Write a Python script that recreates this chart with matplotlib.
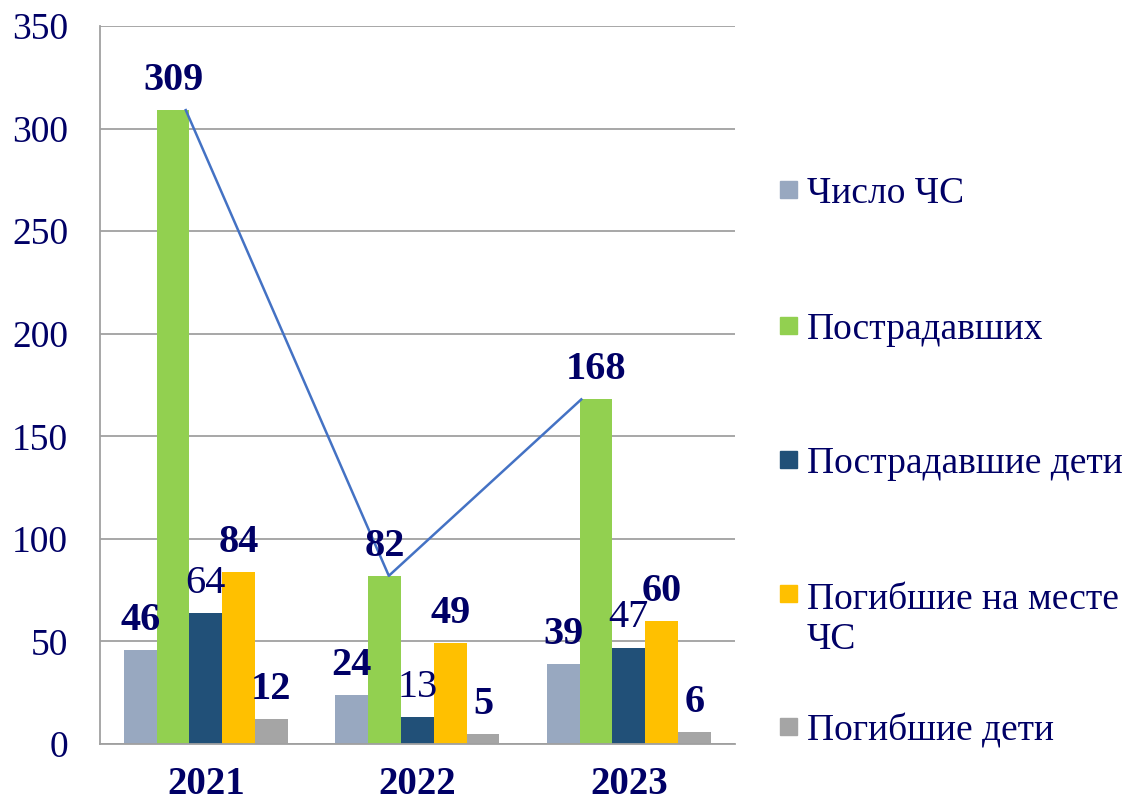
import numpy as np
import matplotlib.pyplot as plt
from matplotlib.patches import Rectangle

plt.rcParams['font.family'] = ['Liberation Serif', 'DejaVu Serif']

years = ['2021', '2022', '2023']
series_names = ['Число ЧС', 'Пострадавших', 'Пострадавшие дети',
                'Погибшие на месте\nЧС', 'Погибшие дети']
chs = [46, 24, 39]
injured = [309, 82, 168]
injured_kids = [64, 13, 47]
killed = [84, 49, 60]
killed_kids = [12, 5, 6]

colors = ['#98A8C0', '#92D050', '#215078', '#FFC000', '#A5A5A5']
bold_labels = [True, True, False, True, True]
navy = '#000066'

data = [chs, injured, injured_kids, killed, killed_kids]

W, H = 1125, 802
fig = plt.figure(figsize=(W / 100, H / 100), dpi=100)
ax = fig.add_axes([0.089, 0.0723, 0.564, 0.8953])

x = np.arange(len(years))
width = 0.155
offsets = (np.arange(5) - 2) * width

for vals, name, col, off, bold in zip(data, series_names, colors, offsets, bold_labels):
    bars = ax.bar(x + off, vals, width, color=col, label=name, zorder=2)
    for b, v in zip(bars, vals):
        ax.annotate(str(v), (b.get_x() + b.get_width() / 2, v),
                    xytext=(0, 8), textcoords='offset points',
                    ha='center', va='bottom', fontsize=29, color=navy,
                    fontweight='bold' if bold else 'normal', zorder=4)

# trend line over the green bars
line_x = x + offsets[1] + np.array([0.06, 0.02, -0.07])
ax.plot(line_x, injured, color='#4472C4', linewidth=1.8, zorder=3)

ax.set_xlim(-0.5, 2.5)
ax.set_ylim(0, 350)
ax.set_yticks(range(0, 351, 50))
ax.set_xticks(x)
ax.set_xticklabels(years, fontsize=28, fontweight='bold', color=navy)
ax.tick_params(axis='y', length=0, pad=23, labelsize=27, labelcolor=navy)
ax.tick_params(axis='x', length=0, pad=16)
ax.grid(axis='y', color='#A0A0A0', linewidth=1.3, zorder=0)
ax.set_axisbelow(True)
for s in ['top', 'right']:
    ax.spines[s].set_visible(False)
for s in ['left', 'bottom']:
    ax.spines[s].set_color('#A0A0A0')
    ax.spines[s].set_linewidth(1.3)

# legend drawn by hand: fixed slots, wrapped text flows downward
slot_y = [190, 326, 460, 594, 727]
line_gap = 43
for name, col, y in zip(series_names, colors, slot_y):
    fig.patches.append(Rectangle((780 / W, 1 - (y + 8) / H), 17 / W, 17 / H,
                                 transform=fig.transFigure, color=col))
    n = name.count('\n')
    fig.text(807 / W, 1 - (y + 4 + n * line_gap / 2) / H, name, fontsize=27,
             color=navy, va='center', ha='left', linespacing=1.2)

fig.savefig('out.png', dpi=100)
